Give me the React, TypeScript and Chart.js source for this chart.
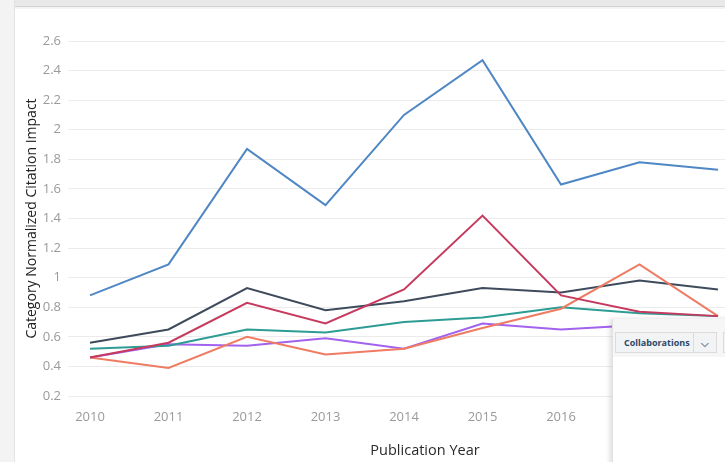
import React, { useEffect, useRef } from "react";
import { Chart, registerables } from "chart.js";

Chart.register(...registerables);

const years = [2010, 2011, 2012, 2013, 2014, 2015, 2016, 2017, 2018];
const yTicks = [0.2, 0.4, 0.6, 0.8, 1, 1.2, 1.4, 1.6, 1.8, 2, 2.2, 2.4, 2.6];

const blueSeries = [0.88, 1.09, 1.87, 1.49, 2.1, 2.47, 1.63, 1.78, 1.73];
const slateSeries = [0.56, 0.65, 0.93, 0.78, 0.84, 0.93, 0.9, 0.98, 0.92];
const crimsonSeries = [0.46, 0.56, 0.83, 0.69, 0.92, 1.42, 0.88, 0.77, 0.74];
const tealSeries = [0.52, 0.54, 0.65, 0.63, 0.7, 0.73, 0.8, 0.76, 0.74];
const purpleSeries = [0.46, 0.55, 0.54, 0.59, 0.52, 0.69, 0.65, 0.68, 0.7];
const salmonSeries = [0.46, 0.39, 0.6, 0.48, 0.52, 0.66, 0.79, 1.09, 0.74];

const FONT = "'Open Sans', 'DejaVu Sans', sans-serif";

function pts(vals: number[]) {
  return years.map((y, i) => ({ x: y, y: vals[i] }));
}

export default function App() {
  const ref = useRef<HTMLCanvasElement | null>(null);

  useEffect(() => {
    if (!ref.current) return;
    const mk = (label: string, data: number[], color: string, order: number) => ({
      label,
      data: pts(data),
      borderColor: color,
      backgroundColor: color,
      borderWidth: 2,
      pointRadius: 0,
      tension: 0,
      fill: false,
      order,
    });
    const chart = new Chart(ref.current, {
      type: "line",
      data: {
        datasets: [
          mk("A", blueSeries, "#4f87c4", 1),
          mk("B", crimsonSeries, "#c73a5f", 2),
          mk("C", salmonSeries, "#ef7c62", 3),
          mk("D", slateSeries, "#3e4b5d", 4),
          mk("E", tealSeries, "#2d9c94", 5),
          mk("F", purpleSeries, "#a262ee", 6),
        ],
      },
      options: {
        animation: false,
        responsive: false,
        layout: { padding: { top: 33, right: 30, left: 0, bottom: 0 } },
        plugins: { legend: { display: false }, tooltip: { enabled: false } },
        scales: {
          x: {
            type: "linear",
            min: 2009.809,
            max: 2018.726,
            afterBuildTicks: (scale: any) => {
              scale.ticks = years.map((v) => ({ value: v }));
            },
            afterFit: (scale: any) => {
              scale.height = 66;
            },
            grid: { display: false, drawTicks: false },
            border: { display: false },
            ticks: {
              padding: 13,
              autoSkip: false,
              maxRotation: 0,
              color: "#9a9a9a",
              font: { family: FONT, size: 13 },
              callback: (v: any) => String(v),
            },
            title: {
              display: true,
              text: "Publication Year",
              color: "#2a2a2a",
              font: { family: FONT, size: 14.5 },
              padding: { top: 0, bottom: 2 },
            },
          },
          y: {
            min: 0.2,
            max: 2.6,
            afterBuildTicks: (scale: any) => {
              scale.ticks = yTicks.map((v) => ({ value: v }));
            },
            afterFit: (scale: any) => {
              scale.width = 60;
            },
            grid: { color: "#ebebeb", tickLength: 7, lineWidth: 1 },
            border: { display: false },
            ticks: {
              padding: 7,
              color: "#9a9a9a",
              font: { family: FONT, size: 13 },
              callback: (v: any) => String(Math.round(Number(v) * 10) / 10),
            },
            title: {
              display: true,
              text: "Category Normalized Citation Impact",
              color: "#222222",
              font: { family: FONT, size: 14 },
              padding: { top: 9, bottom: 0 },
            },
          },
        },
      },
    } as any);
    return () => chart.destroy();
  }, []);

  return (
    <div
      style={{
        position: "fixed",
        left: 0,
        top: 0,
        width: 725,
        height: 462,
        overflow: "hidden",
        background: "#ffffff",
      }}
    >
      <div
        style={{
          position: "absolute",
          left: 0,
          top: 0,
          width: 725,
          height: 6,
          background: "#e9e9e9",
          borderBottom: "1px solid #d3d3d3",
        }}
      />
      <div
        style={{
          position: "absolute",
          left: 0,
          top: 7,
          width: 725,
          height: 2,
          background: "#f4f4f4",
        }}
      />
      <div
        style={{
          position: "absolute",
          left: 0,
          top: 0,
          width: 14,
          height: 462,
          background: "#f3f3f3",
          borderRight: "1px solid #e3e3e3",
        }}
      />
      <div style={{ position: "absolute", left: 15, top: 8, width: 790, height: 454 }}>
        <canvas ref={ref} width={790} height={454} style={{ width: 790, height: 454, display: "block" }} />
      </div>
      <div
        style={{
          position: "absolute",
          left: 612,
          top: 319,
          width: 130,
          height: 160,
          background: "#ffffff",
          boxShadow: "-2px 0 5px rgba(0,0,0,0.14)",
          borderLeft: "1px solid #e2e2e2",
        }}
      >
        <div style={{ position: "absolute", left: 0, top: 0, width: 130, height: 38, background: "#f6f6f6" }} />
        <div
          style={{
            position: "absolute",
            left: 2,
            top: 13,
            width: 100,
            height: 19,
            border: "1px solid #dcdcdc",
            background: "#f1f3f5",
            display: "flex",
            alignItems: "center",
            fontFamily: FONT,
            fontSize: 9,
            fontWeight: 700,
            color: "#2c4868",
          }}
        >
          <span style={{ paddingLeft: 8, width: 75, whiteSpace: "nowrap" }}>Collaborations</span>
          <span
            style={{
              borderLeft: "1px solid #dcdcdc",
              height: 19,
              width: 24,
              display: "flex",
              alignItems: "center",
              justifyContent: "center",
              color: "#6a7a8a",
              fontSize: 10,
            }}
          >
            ⌵
          </span>
        </div>
        <div
          style={{
            position: "absolute",
            left: 110,
            top: 13,
            width: 20,
            height: 19,
            border: "1px solid #dcdcdc",
            background: "#f1f3f5",
          }}
        />
      </div>
    </div>
  );
}
